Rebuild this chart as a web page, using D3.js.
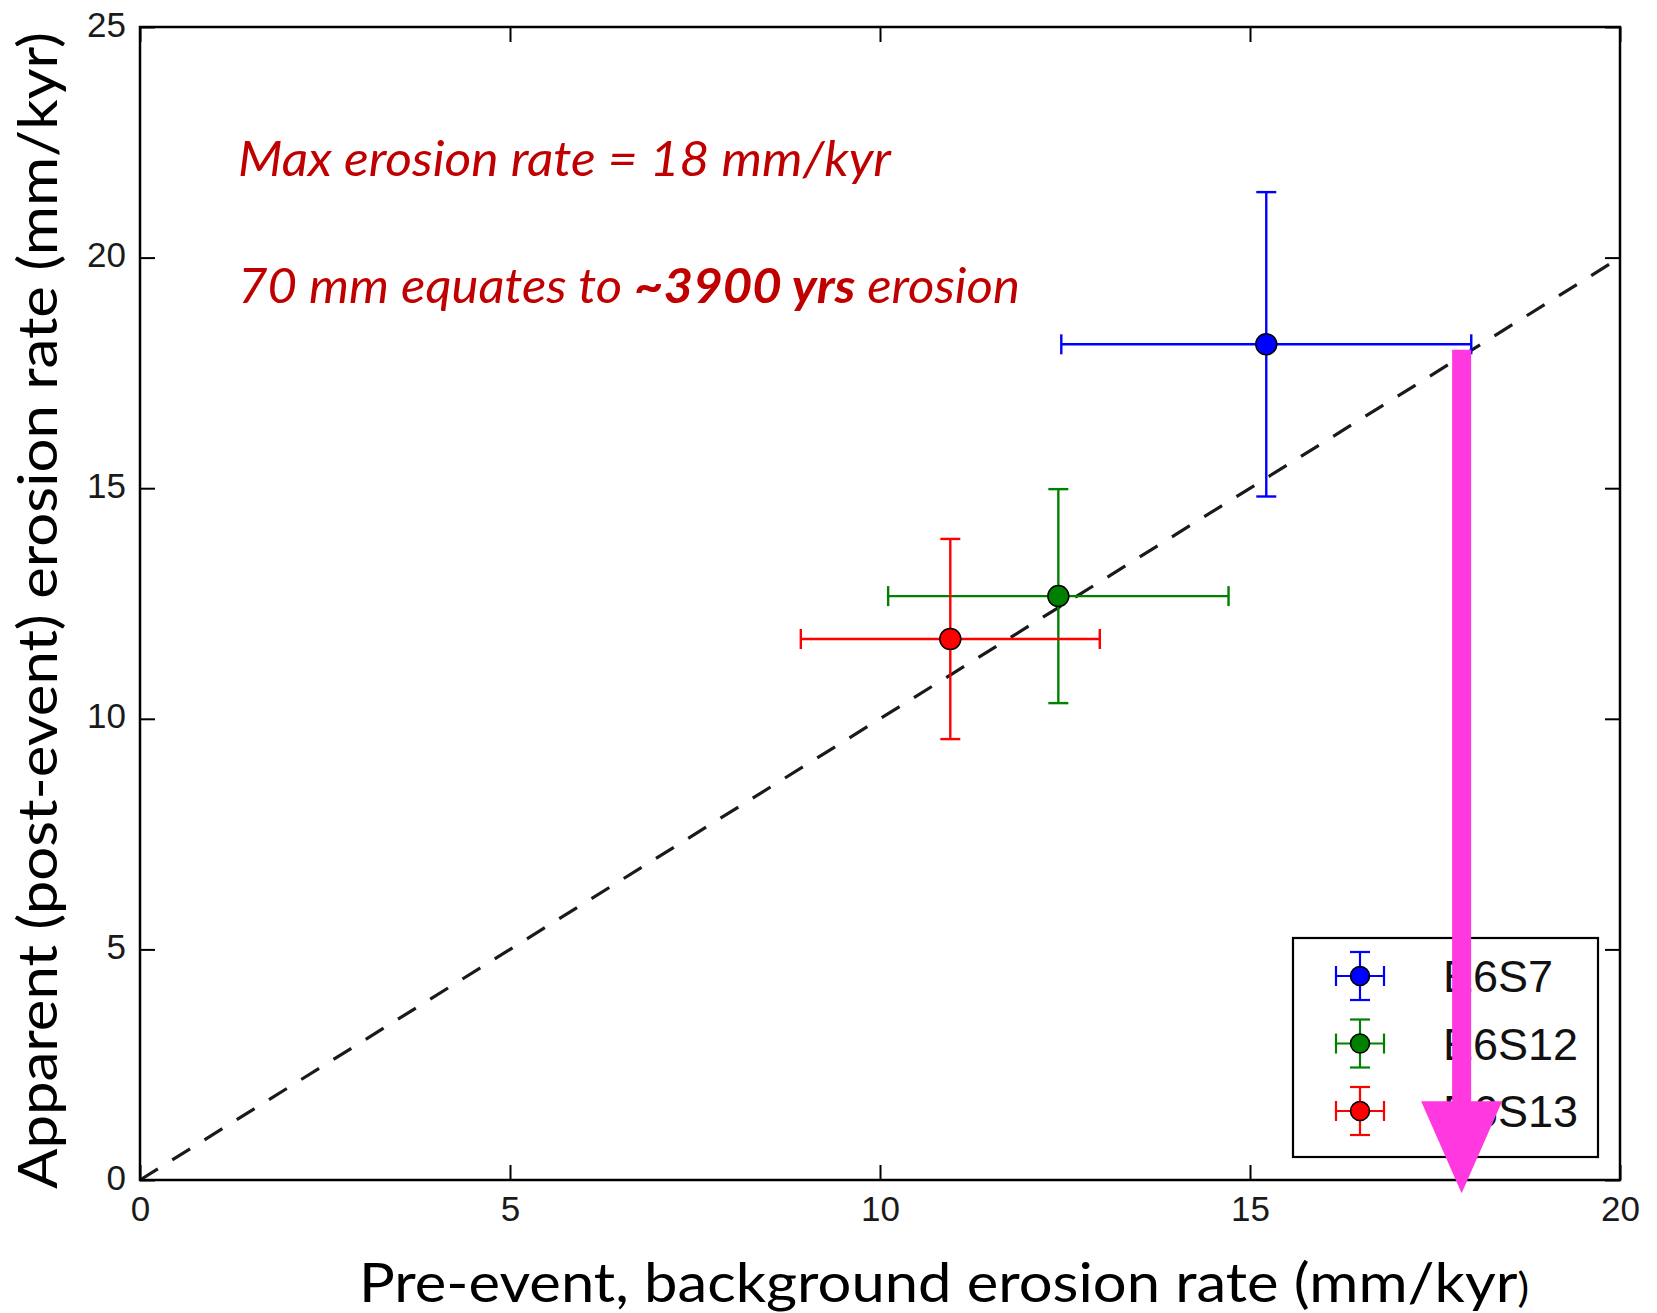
<!DOCTYPE html>
<html>
<head>
<meta charset="utf-8">
<script src="https://cdn.jsdelivr.net/npm/d3@7"></script>
<style>
  html, body { margin: 0; padding: 0; background: #ffffff; }
  svg { display: block; }
</style>
</head>
<body>
<svg id="chart" width="1657" height="1313"></svg>
<script>
// ---------------- data ----------------
const xDomain = [0, 20];
const yDomain = [0, 25];
const xTicks = [0, 5, 10, 15, 20];
const yTicks = [0, 5, 10, 15, 20, 25];

const seriesNames = ["E6S7", "E6S12", "E6S13"];
const xValues = [15.22, 12.41, 10.95];
const yValues = [18.12, 12.66, 11.73];
const xErrors = [2.77, 2.30, 2.02];
const yErrors = [3.30, 2.32, 2.17];
const seriesColors = ["#0000ff", "#008000", "#ff0000"];

const refLineX = [0, 20];
const refLineY = [0, 20];

// annotation arrow (data units)
const arrowX = 17.86;
const arrowYStart = 18.0;
const arrowYEnd = -0.29;

const annotLine1 = "Max erosion rate = 18 mm/kyr";
const annotLine2 = ["70 mm equates to ", "~3900 yrs", " erosion"];
const xLabel = "Pre-event, background erosion rate (mm/kyr";
const xLabelTail = ")";
const yLabel = "Apparent (post-event) erosion rate (mm/kyr)";

// ---------------- layout ----------------
const L = 140, R = 1620, T = 27, B = 1180;
const svg = d3.select("#chart");

const x = d3.scaleLinear().domain(xDomain).range([L, R]);
const y = d3.scaleLinear().domain(yDomain).range([B, T]);

const tickFont = "'Liberation Sans', Arial, sans-serif";
const labelFont = "Lato, 'Open Sans', sans-serif";

// reference dashed line
svg.append("line")
  .attr("x1", x(refLineX[0])).attr("y1", y(refLineY[0]))
  .attr("x2", x(refLineX[1])).attr("y2", y(refLineY[1]))
  .attr("stroke", "#1a1a1a").attr("stroke-width", 3.2)
  .attr("stroke-dasharray", "21,17");

// axes
function styleAxis(g, labels) {
  g.select(".domain").remove();
  g.selectAll(".tick line").attr("stroke", "#000").attr("stroke-width", 2);
  g.selectAll(".tick text")
    .attr("fill", "#1a1a1a")
    .style("font-family", tickFont)
    .style("font-size", "35px");
  if (!labels) g.selectAll(".tick text").remove();
}
svg.append("g").attr("transform", `translate(0,${B})`)
  .call(d3.axisBottom(x).tickValues(xTicks).tickSizeInner(-15).tickSizeOuter(0).tickPadding(16).tickFormat(d3.format("d")))
  .call(g => styleAxis(g, true));
svg.append("g").attr("transform", `translate(0,${T})`)
  .call(d3.axisTop(x).tickValues(xTicks).tickSizeInner(-15).tickSizeOuter(0))
  .call(g => styleAxis(g, false));
svg.append("g").attr("transform", `translate(${L},0)`)
  .call(d3.axisLeft(y).tickValues(yTicks).tickSizeInner(-15).tickSizeOuter(0).tickPadding(14).tickFormat(d3.format("d")))
  .call(g => { styleAxis(g, true); g.selectAll(".tick text").attr("dy", "0.26em"); });
svg.append("g").attr("transform", `translate(${R},0)`)
  .call(d3.axisRight(y).tickValues(yTicks).tickSizeInner(-15).tickSizeOuter(0))
  .call(g => styleAxis(g, false));

// frame
svg.append("rect")
  .attr("x", L).attr("y", T).attr("width", R - L).attr("height", B - T)
  .attr("fill", "none").attr("stroke", "#000").attr("stroke-width", 2.5);

// error bars + markers
const cap = 10;
const pts = seriesNames.map((n, i) => ({
  name: n, x: xValues[i], y: yValues[i], xe: xErrors[i], ye: yErrors[i], c: seriesColors[i]
}));
const eb = svg.append("g");
pts.forEach(p => {
  const g = eb.append("g").attr("stroke", p.c).attr("stroke-width", 2.4);
  const cx = x(p.x), cy = y(p.y);
  const x0 = x(p.x - p.xe), x1 = x(p.x + p.xe);
  const y0 = y(p.y - p.ye), y1 = y(p.y + p.ye);
  g.append("line").attr("x1", x0).attr("x2", x1).attr("y1", cy).attr("y2", cy);
  g.append("line").attr("x1", x0).attr("x2", x0).attr("y1", cy - cap).attr("y2", cy + cap);
  g.append("line").attr("x1", x1).attr("x2", x1).attr("y1", cy - cap).attr("y2", cy + cap);
  g.append("line").attr("x1", cx).attr("x2", cx).attr("y1", y0).attr("y2", y1);
  g.append("line").attr("x1", cx - cap).attr("x2", cx + cap).attr("y1", y0).attr("y2", y0);
  g.append("line").attr("x1", cx - cap).attr("x2", cx + cap).attr("y1", y1).attr("y2", y1);
});
svg.append("g").selectAll("circle").data(pts).join("circle")
  .attr("cx", d => x(d.x)).attr("cy", d => y(d.y)).attr("r", 10.5)
  .attr("fill", d => d.c).attr("stroke", "#000").attr("stroke-width", 1.5);

// legend
const lg = svg.append("g");
lg.append("rect").attr("x", 1293).attr("y", 938).attr("width", 305).attr("height", 219)
  .attr("fill", "#fff").attr("stroke", "#000").attr("stroke-width", 2.2);
pts.forEach((p, i) => {
  const cx = 1360, cy = 976 + i * 67.5, h = 24;
  const g = lg.append("g").attr("stroke", p.c).attr("stroke-width", 2.2);
  g.append("line").attr("x1", cx - h).attr("x2", cx + h).attr("y1", cy).attr("y2", cy);
  g.append("line").attr("x1", cx - h).attr("x2", cx - h).attr("y1", cy - cap).attr("y2", cy + cap);
  g.append("line").attr("x1", cx + h).attr("x2", cx + h).attr("y1", cy - cap).attr("y2", cy + cap);
  g.append("line").attr("x1", cx).attr("x2", cx).attr("y1", cy - h).attr("y2", cy + h);
  g.append("line").attr("x1", cx - cap).attr("x2", cx + cap).attr("y1", cy - h).attr("y2", cy - h);
  g.append("line").attr("x1", cx - cap).attr("x2", cx + cap).attr("y1", cy + h).attr("y2", cy + h);
  lg.append("circle").attr("cx", cx).attr("cy", cy).attr("r", 9.5)
    .attr("fill", p.c).attr("stroke", "#000").attr("stroke-width", 1.5);
  lg.append("text").attr("x", 1443).attr("y", cy + 16)
    .style("font-family", tickFont).style("font-size", "45px").attr("fill", "#111")
    .text(p.name);
});

// annotation text
svg.append("text").attr("x", 238).attr("y", 176)
  .attr("textLength", 653).attr("lengthAdjust", "spacingAndGlyphs")
  .style("font-family", labelFont).style("font-style", "italic").style("font-size", "48px")
  .attr("fill", "#c00000").text(annotLine1);
const t2 = svg.append("text").attr("x", 238).attr("y", 303)
  .attr("textLength", 782).attr("lengthAdjust", "spacingAndGlyphs")
  .style("font-family", labelFont).style("font-style", "italic").style("font-size", "48px")
  .attr("fill", "#c00000");
t2.append("tspan").text(annotLine2[0]);
t2.append("tspan").style("font-weight", "bold").text(annotLine2[1]);
t2.append("tspan").text(annotLine2[2]);

// magenta arrow
const ax = x(arrowX), ayTop = y(arrowYStart), ayTip = y(arrowYEnd);
const headLen = 92, headHalf = 40.5, shaftHalf = 9.5;
svg.append("path")
  .attr("d", `M${ax - shaftHalf},${ayTop} L${ax + shaftHalf},${ayTop} L${ax + shaftHalf},${ayTip - headLen}
    L${ax + headHalf},${ayTip - headLen} L${ax},${ayTip} L${ax - headHalf},${ayTip - headLen}
    L${ax - shaftHalf},${ayTip - headLen} Z`)
  .attr("fill", "#ff38e0");

// axis labels
const xl = svg.append("text").attr("x", 359).attr("y", 1302)
  .attr("textLength", 1170).attr("lengthAdjust", "spacingAndGlyphs")
  .style("font-family", labelFont).style("font-size", "55px").attr("fill", "#000");
xl.append("tspan").text(xLabel);
xl.append("tspan").style("font-size", "40px").text(xLabelTail);

svg.append("text")
  .attr("transform", `translate(57,${(1189 + 32) / 2}) rotate(-90)`)
  .attr("text-anchor", "middle")
  .attr("textLength", 1157).attr("lengthAdjust", "spacingAndGlyphs")
  .style("font-family", labelFont).style("font-size", "55px").attr("fill", "#000")
  .text(yLabel);
</script>
</body>
</html>
